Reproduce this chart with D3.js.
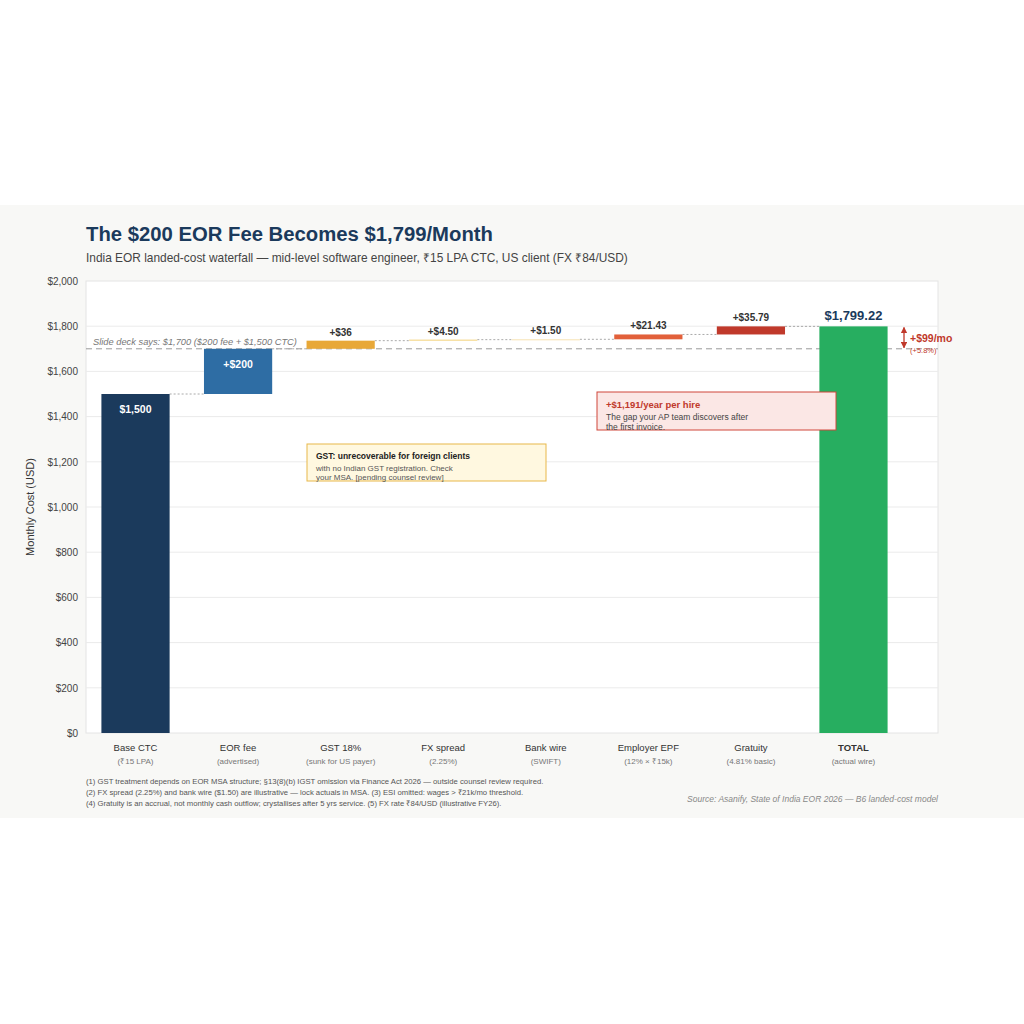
<!DOCTYPE html>
<html>
<head>
<meta charset="utf-8">
<script src="https://cdn.jsdelivr.net/npm/d3@7"></script>
<style>
  html, body { margin: 0; padding: 0; background: #fff; }
  svg { display: block; font-family: "Liberation Sans", Arial, sans-serif; }
</style>
</head>
<body>
<svg id="chart" width="1024" height="1024"></svg>
<script>
// categories + sub labels
let categories = ['Base CTC', 'EOR fee', 'GST 18%', 'FX spread', 'Bank wire', 'Employer EPF', 'Gratuity', 'TOTAL'];
let subLabels = ['(₹15 LPA)', '(advertised)', '(sunk for US payer)', '(2.25%)', '(SWIFT)', '(12% × ₹15k)', '(4.81% basic)', '(actual wire)'];
let values = [1500, 200, 36, 4.50, 1.50, 21.43, 35.79];
let valueLabels = ['$1,500', '+$200', '+$36', '+$4.50', '+$1.50', '+$21.43', '+$35.79', '$1,799.22'];
let barColors = ['#1b3a5c', '#2e6da4', '#e8a838', '#f3d27a', '#f7e3b2', '#e2603a', '#c0392b', '#27ae60'];
let yTicks = [0, 200, 400, 600, 800, 1000, 1200, 1400, 1600, 1800, 2000];
let slideDeck = 1700;
let footnotes = [
  '(1) GST treatment depends on EOR MSA structure; §13(8)(b) IGST omission via Finance Act 2026 — outside counsel review required.',
  '(2) FX spread (2.25%) and bank wire ($1.50) are illustrative — lock actuals in MSA. (3) ESI omitted: wages > ₹21k/mo threshold.',
  '(4) Gratuity is an accrual, not monthly cash outflow; crystallises after 5 yrs service. (5) FX rate ₹84/USD (illustrative FY26).'
];

let svg = d3.select('#chart');

// background panel
svg.append('rect').attr('x', 0).attr('y', 205).attr('width', 1024).attr('height', 613).attr('fill', '#f8f8f6');

let plot = {left: 86, right: 938, top: 281, bottom: 733};

let y = d3.scaleLinear().domain([0, 2000]).range([plot.bottom, plot.top]);
let x = d3.scaleBand().domain(categories).range([85, 904]).paddingInner(0.335).paddingOuter(0.16);

// build waterfall steps
let total = d3.sum(values);
let steps = [];
let run = 0;
values.forEach((v, i) => {
  steps.push({name: categories[i], start: run, end: run + v, label: valueLabels[i], color: barColors[i]});
  run += v;
});
steps.push({name: 'TOTAL', start: 0, end: total, label: valueLabels[7], color: barColors[7]});

// plot background
svg.append('rect')
  .attr('x', plot.left).attr('y', plot.top)
  .attr('width', plot.right - plot.left).attr('height', plot.bottom - plot.top)
  .attr('fill', '#fff').attr('stroke', '#e4e4e4').attr('stroke-width', 1);

// gridlines
svg.append('g').selectAll('line.grid')
  .data(yTicks.slice(1, -1))
  .enter().append('line')
  .attr('x1', plot.left).attr('x2', plot.right)
  .attr('y1', d => y(d)).attr('y2', d => y(d))
  .attr('stroke', '#ebebeb').attr('stroke-width', 1);

// y axis
let yAxis = d3.axisLeft(y).tickValues(yTicks).tickSize(0).tickPadding(8)
  .tickFormat(d => '$' + d3.format(',')(d));
let yg = svg.append('g').attr('transform', `translate(${plot.left},0)`).call(yAxis);
yg.select('.domain').remove();
yg.selectAll('text').attr('fill', '#444').style('font-size', '10px');

svg.append('text')
  .attr('transform', `translate(34, ${(plot.top + plot.bottom) / 2}) rotate(-90)`)
  .attr('text-anchor', 'middle')
  .attr('fill', '#333').style('font-size', '11px')
  .text('Monthly Cost (USD)');

// slide deck dashed line
svg.append('line')
  .attr('x1', plot.left).attr('x2', plot.right)
  .attr('y1', y(slideDeck)).attr('y2', y(slideDeck))
  .attr('stroke', '#999').attr('stroke-width', 1).attr('stroke-dasharray', '6,4');
svg.append('text')
  .attr('x', plot.left + 7).attr('y', y(slideDeck) - 4)
  .attr('fill', '#777').style('font-size', '9.3px').style('font-style', 'italic')
  .text('Slide deck says: $1,700 ($200 fee + $1,500 CTC)');

// connectors
svg.append('g').selectAll('line.conn')
  .data(steps.slice(0, -1))
  .enter().append('line')
  .attr('x1', d => x(d.name) + x.bandwidth())
  .attr('x2', (d, i) => x(categories[i + 1]))
  .attr('y1', d => y(d.end)).attr('y2', d => y(d.end))
  .attr('stroke', '#aaa').attr('stroke-width', 1).attr('stroke-dasharray', '2,2');

// bars
svg.append('g').selectAll('rect.bar')
  .data(steps)
  .enter().append('rect')
  .attr('x', d => x(d.name))
  .attr('width', x.bandwidth())
  .attr('y', d => y(d.end))
  .attr('height', d => Math.max(1, y(d.start) - y(d.end)))
  .attr('fill', d => d.color);

// value labels
steps.forEach((d, i) => {
  let cx = x(d.name) + x.bandwidth() / 2;
  if (i < 2) {
    svg.append('text')
      .attr('x', cx).attr('y', y(d.end) + 19)
      .attr('text-anchor', 'middle').attr('fill', '#fff')
      .style('font-size', '10.5px').style('font-weight', 'bold')
      .text(d.label);
  } else if (i === steps.length - 1) {
    svg.append('text')
      .attr('x', cx).attr('y', y(d.end) - 6)
      .attr('text-anchor', 'middle').attr('fill', '#1b3a5c')
      .style('font-size', '13px').style('font-weight', 'bold')
      .text(d.label);
  } else {
    svg.append('text')
      .attr('x', cx).attr('y', y(d.end) - 5)
      .attr('text-anchor', 'middle').attr('fill', '#333')
      .style('font-size', '10px').style('font-weight', 'bold')
      .text(d.label);
  }
});

// x labels
let xl = svg.append('g').selectAll('g.xlab')
  .data(categories)
  .enter().append('g')
  .attr('transform', d => `translate(${x(d) + x.bandwidth() / 2}, 0)`);
xl.append('text')
  .attr('y', 751).attr('text-anchor', 'middle').attr('fill', '#333')
  .style('font-size', '9.5px')
  .style('font-weight', d => d === 'TOTAL' ? 'bold' : 'normal')
  .text(d => d);
xl.append('text')
  .attr('y', 764).attr('text-anchor', 'middle').attr('fill', '#777')
  .style('font-size', '8px')
  .text((d, i) => subLabels[i]);

// +$99/mo gap arrow
let gx = 904;
let defs = svg.append('defs');
defs.append('marker').attr('id', 'arrowRed')
  .attr('viewBox', '0 0 10 10').attr('refX', 9).attr('refY', 5)
  .attr('markerWidth', 5).attr('markerHeight', 5).attr('orient', 'auto-start-reverse')
  .append('path').attr('d', 'M0,0 L10,5 L0,10 z').attr('fill', '#c0392b');
svg.append('line')
  .attr('x1', gx).attr('x2', gx)
  .attr('y1', y(total) + 1).attr('y2', y(slideDeck) - 1)
  .attr('stroke', '#c0392b').attr('stroke-width', 1.3)
  .attr('marker-start', 'url(#arrowRed)').attr('marker-end', 'url(#arrowRed)');
svg.append('text')
  .attr('x', gx + 6).attr('y', y(1750) + 4)
  .attr('fill', '#c0392b').style('font-size', '10.5px').style('font-weight', 'bold')
  .text('+$99/mo');
svg.append('text')
  .attr('x', gx + 6).attr('y', y(slideDeck) + 4)
  .attr('fill', '#c0392b').style('font-size', '7.5px')
  .text('(+5.8%)');

// GST annotation box
let gst = svg.append('g').attr('transform', 'translate(307,444)');
gst.append('rect').attr('width', 239).attr('height', 37)
  .attr('fill', '#fff8e0').attr('stroke', '#e8b84a').attr('stroke-width', 1);
gst.append('text').attr('x', 9).attr('y', 15)
  .attr('fill', '#222').style('font-size', '8.5px').style('font-weight', 'bold')
  .text('GST: unrecoverable for foreign clients');
gst.append('text').attr('x', 9).attr('y', 27)
  .attr('fill', '#555').style('font-size', '8px')
  .text('with no Indian GST registration. Check');
gst.append('text').attr('x', 9).attr('y', 36)
  .attr('fill', '#555').style('font-size', '8px')
  .text('your MSA. [pending counsel review]');

// cost gap box
let gap = svg.append('g').attr('transform', 'translate(597,392)');
gap.append('rect').attr('width', 239).attr('height', 38)
  .attr('fill', '#fbe7e5').attr('stroke', '#d0463a').attr('stroke-width', 1);
gap.append('text').attr('x', 9).attr('y', 16)
  .attr('fill', '#c0392b').style('font-size', '9.5px').style('font-weight', 'bold')
  .text('+$1,191/year per hire');
gap.append('text').attr('x', 9).attr('y', 28)
  .attr('fill', '#444').style('font-size', '8.5px')
  .text('The gap your AP team discovers after');
gap.append('text').attr('x', 9).attr('y', 38)
  .attr('fill', '#444').style('font-size', '8.5px')
  .text('the first invoice.');

// titles
svg.append('text').attr('x', 86).attr('y', 241)
  .attr('fill', '#1b3a5c').style('font-size', '20.3px').style('font-weight', 'bold')
  .text('The $200 EOR Fee Becomes $1,799/Month');
svg.append('text').attr('x', 86).attr('y', 262)
  .attr('fill', '#444').style('font-size', '11.9px')
  .text('India EOR landed-cost waterfall — mid-level software engineer, ₹15 LPA CTC, US client (FX ₹84/USD)');

// footnotes
svg.append('g').selectAll('text.fn')
  .data(footnotes)
  .enter().append('text')
  .attr('x', 86).attr('y', (d, i) => 784 + i * 10.8)
  .attr('fill', '#555').style('font-size', '7.7px')
  .text(d => d);

svg.append('text')
  .attr('x', plot.right).attr('y', 802).attr('text-anchor', 'end')
  .attr('fill', '#888').style('font-size', '8.5px').style('font-style', 'italic')
  .text('Source: Asanify, State of India EOR 2026 — B6 landed-cost model');
</script>
</body>
</html>
